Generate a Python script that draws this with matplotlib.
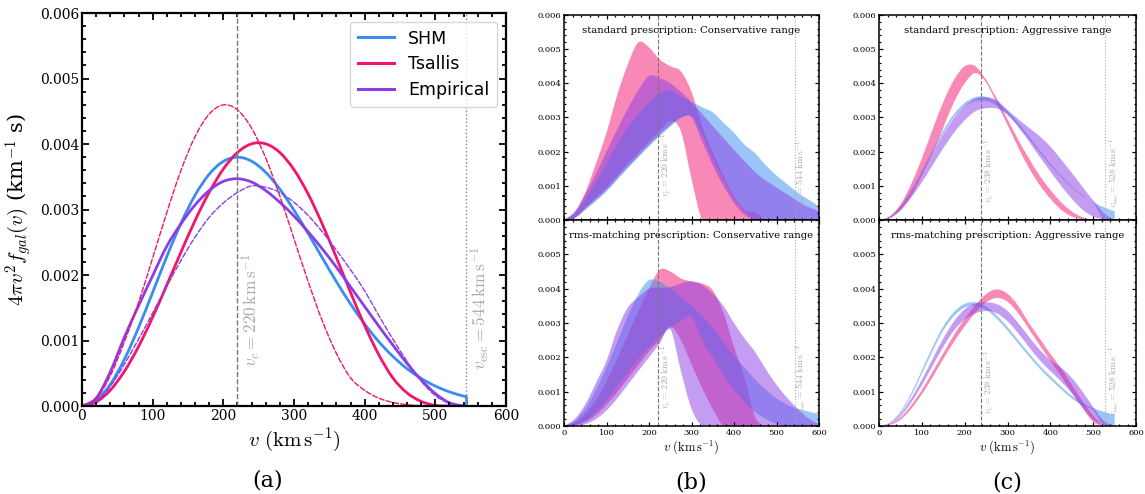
import numpy as np
import matplotlib.pyplot as plt
from matplotlib.path import Path
from matplotlib.patches import PathPatch
from matplotlib.lines import Line2D
from matplotlib.ticker import MultipleLocator, FormatStrFormatter, FuncFormatter

plt.rcParams['font.family'] = 'DejaVu Serif'
plt.rcParams['mathtext.fontset'] = 'cm'

SHM_C = '#3a8cf0'
TS_C = '#f2146e'
EMP_C = '#8b3de6'
nan = np.nan

# panel (a): speed distributions, values in units of 1e-3 s/km
v_a = list(range(0, 541, 20))
v_shm = v_a + [544, 544]
shm = [0, 0.085, 0.330, 0.713, 1.196, 1.735, 2.282, 2.789, 3.218, 3.539, 3.735, 3.799,
       3.738, 3.568, 3.311, 2.990, 2.634, 2.264, 1.900, 1.559, 1.252, 0.983, 0.757,
       0.570, 0.421, 0.305, 0.216, 0.151, 0.140, 0.0]
tsallis = [0, 0.061, 0.241, 0.529, 0.908, 1.356, 1.846, 2.348, 2.831, 3.263, 3.618, 3.871,
           4.003, 4.003, 3.870, 3.609, 3.238, 2.779, 2.267, 1.737, 1.229, 0.783, 0.428,
           0.200, 0.070, 0.010, 0, 0]
empirical = [0, 0.12, 0.52, 1.05, 1.53, 1.99, 2.44, 2.78, 3.07, 3.29, 3.43, 3.47, 3.42,
             3.29, 3.11, 2.90, 2.66, 2.40, 2.12, 1.82, 1.52, 1.22, 0.93, 0.65, 0.40,
             0.19, 0.05, 0]
tsallis_alt = [0, 0.109, 0.46, 0.98, 1.58, 2.26, 2.953, 3.595, 4.112, 4.457, 4.597, 4.522,
               4.242, 3.786, 3.205, 2.554, 1.902, 1.302, 0.804, 0.431, 0.24, 0.12, 0.055,
               0.02, 0.005, 0, 0, 0]
empirical_alt = [0, 0.07, 0.30, 0.64, 1.02, 1.42, 1.83, 2.22, 2.58, 2.88, 3.10, 3.26, 3.36,
                 3.34, 3.26, 3.11, 2.91, 2.66, 2.38, 2.08, 1.76, 1.38, 1.02, 0.68, 0.38,
                 0.16, 0.04, 0]

# panels (b), (c): bands, same units, sampled every 25 km/s
v_b = list(range(0, 601, 25))

# standard prescription, conservative range
sc_ts_hi = [0, 0.2, 0.8, 1.65, 2.55, 3.65, 4.55, 5.2, 5.05, 4.7, 4.5, 4.35, 3.75, 2.75,
            1.98, 1.3, 0.7, 0.3, 0.22, 0, 0, 0, 0, 0, 0]
sc_ts_lo = [0, 0.07, 0.36, 0.65, 0.95, 1.3, 1.65, 1.97, 2.3, 2.6, 2.9, 2.6, 1.2, 0, 0, 0,
            0, 0, 0, 0, 0, 0, 0, 0, 0]
sc_shm_hi = [0, 0.2, 0.6, 1.1, 1.65, 2.2, 2.7, 3.1, 3.45, 3.7, 3.8, 3.6, 3.45, 3.3, 3.15,
             2.85, 2.55, 2.2, 1.95, 1.6, 1.3, 1.05, 0.8, 0.6, 0.4]
sc_shm_lo = [0, 0.05, 0.29, 0.55, 0.83, 1.17, 1.51, 1.83, 2.15, 2.45, 2.73, 2.98, 3.04,
             2.5, 1.8, 1.2, 0.65, 0.25, 0, 0, 0, 0, 0, 0, 0]
sc_emp_hi = [0, 0.25, 0.75, 1.35, 2.0, 2.65, 3.25, 3.8, 4.22, 4.15, 4.0, 3.75, 3.45, 3.1,
             2.75, 2.4, 2.05, 1.72, 1.4, 1.15, 0.95, 0.75, 0.55, 0.38, 0.25]
sc_emp_lo = [0, 0.06, 0.33, 0.6, 0.88, 1.22, 1.56, 1.88, 2.2, 2.5, 2.78, 3.0, 3.0, 2.3,
             1.6, 1.0, 0.5, 0.15, 0, 0, 0, 0, 0, 0, 0]

# rms-matching prescription, conservative range
rc_ts_hi = [0, 0.1, 0.35, 0.75, 1.3, 1.95, 2.65, 3.35, 4.0, 4.55, 4.5, 4.3, 4.2, 4.15,
            3.95, 3.3, 2.3, 1.4, 0.25, 0, 0, 0, 0, 0, 0]
rc_ts_lo = [0, 0.02, 0.12, 0.32, 0.62, 0.98, 1.38, 1.78, 2.18, 2.5, 2.9, 2.5, 1.8, 1.1,
            0.5, 0, 0, 0, 0, 0, 0, 0, 0, 0, 0]
rc_shm_hi = [0, 0.15, 0.5, 1.05, 1.7, 2.45, 3.2, 3.85, 4.25, 4.2, 4.0, 3.75, 3.5, 3.2,
             2.85, 2.45, 2.05, 1.7, 1.35, 1.05, 0.8, 0.62, 0.5, 0.42, 0.35]
rc_shm_lo = [0, 0.02, 0.15, 0.4, 0.75, 1.15, 1.55, 1.95, 2.3, 2.6, 2.85, 3.05, 3.2, 2.5,
             2.0, 1.5, 1.05, 0.7, 0.4, 0.2, 0.07, 0, 0, 0, 0]
rc_emp_hi = [0, 0.2, 0.63, 1.25, 1.9, 2.8, 3.45, 3.75, 4.0, 4.02, 4.05, 4.15, 4.22, 4.1,
             3.85, 3.5, 3.0, 2.55, 2.15, 1.65, 1.2, 0.82, 0.5, 0.22, 0.05]
rc_emp_lo = [0, 0, 0.05, 0.2, 0.45, 0.8, 1.2, 1.6, 2.0, 2.4, 2.82, 1.6, 0.5, 0, 0, 0, 0,
             0, 0, 0, 0, 0, 0, 0, 0]

# standard prescription, aggressive range
sa_ts_hi = [0, 0.1, 0.45, 1.05, 1.8, 2.65, 3.45, 4.1, 4.5, 4.5, 4.1, 3.55, 2.95, 2.35,
            1.8, 1.3, 0.88, 0.52, 0.25, 0.08, 0.01, 0, 0, 0, 0]
sa_ts_lo = [0, 0.05, 0.28, 0.7, 1.3, 1.95, 2.7, 3.45, 4.0, 4.3, 4.02, 3.42, 2.78, 2.12,
            1.52, 1.02, 0.62, 0.3, 0.1, 0.02, 0, 0, 0, 0, 0]
sa_shm_hi = [0, 0.107, 0.416, 0.885, 1.456, 2.060, 2.627, 3.098, 3.430, 3.598, 3.602,
             3.457, 3.192, 2.843, 2.448, 2.040, 1.649, 1.294, 0.986, 0.730, 0.526,
             0.369, 0.252, nan, nan]
sa_shm_lo = [0, 0.104, 0.402, 0.855, 1.408, 1.992, 2.540, 2.996, 3.316, 3.479, 3.483,
             3.342, 3.086, 2.749, 2.366, 1.973, 1.594, 1.251, 0.953, 0.706, 0.509, 0, 0,
             nan, nan]
sa_emp_hi = [0, 0.1, 0.4, 0.85, 1.4, 1.98, 2.52, 2.98, 3.33, 3.55, 3.6, 3.5, 3.22, 2.95,
             2.7, 2.45, 2.15, 1.77, 1.38, 0.97, 0.57, 0.2, 0, 0, 0]
sa_emp_lo = [0, 0.06, 0.28, 0.65, 1.1, 1.6, 2.1, 2.55, 2.92, 3.18, 3.27, 3.26, 3.08, 2.72,
             2.3, 1.85, 1.42, 1.0, 0.62, 0.3, 0.1, 0.02, 0, 0, 0]

# rms-matching prescription, aggressive range
ra_ts_hi = [0, 0.05, 0.25, 0.6, 1.05, 1.58, 2.12, 2.65, 3.12, 3.52, 3.84, 3.98, 3.85, 3.5,
            3.0, 2.55, 2.1, 1.68, 1.2, 0.72, 0.3, 0, 0, 0, 0]
ra_ts_lo = [0, 0.03, 0.18, 0.5, 0.92, 1.42, 1.95, 2.45, 2.9, 3.3, 3.6, 3.73, 3.62, 3.28,
            2.82, 2.35, 1.9, 1.45, 0.98, 0.52, 0.12, 0, 0, 0, 0]
ra_shm_hi = [0, 0.1, 0.42, 0.95, 1.62, 2.3, 2.9, 3.32, 3.56, 3.6, 3.48, 3.22, 2.88, 2.5,
             2.12, 1.76, 1.45, 1.15, 0.88, 0.68, 0.52, 0.41, 0.33, nan, nan]
ra_shm_lo = [0, 0.08, 0.37, 0.87, 1.52, 2.18, 2.78, 3.2, 3.45, 3.5, 3.38, 3.12, 2.78, 2.4,
             2.03, 1.67, 1.36, 1.07, 0.8, 0.6, 0.45, 0, 0, nan, nan]
ra_emp_hi = [0, 0.08, 0.35, 0.8, 1.35, 1.95, 2.55, 3.05, 3.4, 3.57, 3.6, 3.55, 3.35, 3.0,
             2.6, 2.22, 1.92, 1.7, 1.4, 1.0, 0.55, 0.15, 0, 0, 0]
ra_emp_lo = [0, 0.05, 0.28, 0.68, 1.18, 1.75, 2.3, 2.78, 3.1, 3.28, 3.35, 3.28, 3.05, 2.7,
             2.3, 1.92, 1.6, 1.3, 0.95, 0.55, 0.18, 0.02, 0, 0, 0]


def bezier(x, y):
    # cubic Bezier pieces through every point (Catmull-Rom tangents)
    p = np.column_stack([x, np.array(y, dtype=float) * 1e-3])
    q = np.vstack([p[:1], p, p[-1:]])
    verts = [p[0]]
    for i in range(len(p) - 1):
        verts += [p[i] + (q[i + 2] - q[i]) / 6, p[i + 1] - (q[i + 3] - q[i + 1]) / 6,
                  p[i + 1]]
    return verts


def curve(ax, x, y, **kw):
    verts = bezier(x, y)
    codes = [Path.MOVETO] + [Path.CURVE4] * (len(verts) - 1)
    ax.add_patch(PathPatch(Path(verts, codes), fill=False, capstyle='round', **kw))


def band(ax, lo, hi, color):
    ok = ~np.isnan(np.array(hi, dtype=float))
    x = np.array(v_b)[ok]
    up = bezier(x, np.array(hi)[ok])
    down = bezier(x[::-1], np.array(lo)[ok][::-1])
    n = len(up) - 1
    verts = up + down + [up[0]]
    codes = ([Path.MOVETO] + [Path.CURVE4] * n + [Path.LINETO] + [Path.CURVE4] * n
             + [Path.CLOSEPOLY])
    ax.add_patch(PathPatch(Path(verts, codes), facecolor=color, alpha=0.5, lw=0))


def style(ax, labelsize, lw, major, minor):
    ax.set_xlim(0, 600)
    ax.set_ylim(0, 0.006)
    ax.xaxis.set_major_locator(MultipleLocator(100))
    ax.xaxis.set_minor_locator(MultipleLocator(20))
    ax.yaxis.set_major_locator(MultipleLocator(0.001))
    ax.yaxis.set_minor_locator(MultipleLocator(0.0002))
    ax.yaxis.set_major_formatter(FormatStrFormatter('%.3f'))
    ax.tick_params(which='both', direction='in', top=True, right=True,
                   labelsize=labelsize, width=lw * 0.8, pad=2)
    ax.tick_params(which='major', length=major)
    ax.tick_params(which='minor', length=minor)
    for s in ax.spines.values():
        s.set_linewidth(lw)


fig = plt.figure(figsize=(11.45, 4.94), dpi=100)

# ---- (a) ----
ax = fig.add_axes([0.0716, 0.1781, 0.3703, 0.7955])
style(ax, 10, 1.6, 5, 3)
curve(ax, v_shm, shm, edgecolor=SHM_C, lw=2)
curve(ax, v_a, tsallis, edgecolor=TS_C, lw=2)
curve(ax, v_a, empirical, edgecolor=EMP_C, lw=2)
curve(ax, v_a, tsallis_alt, edgecolor=TS_C, lw=1, ls='--')
curve(ax, v_a, empirical_alt, edgecolor=EMP_C, lw=1, ls='--')
ax.axvline(220, color='#777777', ls='--', lw=1)
ax.axvline(544, color='#888888', ls=':', lw=1)
ax.text(240, 0.0006, r'$v_c = 220\,\mathrm{km\,s^{-1}}$', rotation=90, color='#aaaaaa',
        fontsize=12.5, ha='center', va='bottom')
ax.text(564, 0.00055, r'$v_{\rm esc} = 544\,\mathrm{km\,s^{-1}}$', rotation=90,
        color='#aaaaaa', fontsize=12.5, ha='center', va='bottom')
ax.set_xlabel(r'$v\ (\mathrm{km\,s^{-1}})$', fontsize=15, labelpad=2)
ax.set_ylabel(r'$4\pi v^2 f_{gal}(v)$ (km$^{-1}$ s)', fontsize=15, labelpad=4)
handles = [Line2D([], [], color=c, lw=2.2) for c in (SHM_C, TS_C, EMP_C)]
ax.legend(handles, ['SHM', 'Tsallis', 'Empirical'], loc='upper right',
          prop={'family': 'DejaVu Sans', 'size': 12.5},
          handlelength=2.1, labelspacing=0.45, borderpad=0.45)
fig.text(0.234, 0.028, '(a)', ha='center', va='center', fontsize=16)


# ---- (b), (c) ----
def band_panel(rect, title, ts, shm_b, emp_b, vc, vesc, vc_y, vesc_y, vc_x, vesc_x,
               bottom):
    ax = fig.add_axes(rect)
    style(ax, 6, 1.1, 3, 1.6)
    for (lo, hi), c in ((ts, TS_C), (shm_b, SHM_C), (emp_b, EMP_C)):
        band(ax, lo, hi, c)
    ax.axvline(vc, color='#777777', ls='--', lw=0.8)
    ax.axvline(vesc, color='#aaaaaa', ls=':', lw=0.8)
    ax.text(vc_x, vc_y, r'$v_c = %d\,\mathrm{km\,s^{-1}}$' % vc, rotation=90,
            color='#aaaaaa', fontsize=7, ha='center', va='bottom')
    ax.text(vesc_x, vesc_y, r'$v_{\rm esc} = %d\,\mathrm{km\,s^{-1}}$' % vesc, rotation=90,
            color='#aaaaaa', fontsize=7, ha='center', va='bottom')
    ax.text(0.5, 0.925, title, transform=ax.transAxes, ha='center', va='center',
            fontsize=7.3)
    if bottom:
        ax.set_xlabel(r'$v\ (\mathrm{km\,s^{-1}})$', fontsize=9, labelpad=1)
        ax.yaxis.set_major_formatter(
            FuncFormatter(lambda y, _: '' if y > 0.0055 else '%.3f' % y))
    else:
        ax.tick_params(labelbottom=False)
    return ax


band_panel([0.4926, 0.5547, 0.2227, 0.4150], 'standard prescription: Conservative range',
           (sc_ts_lo, sc_ts_hi), (sc_shm_lo, sc_shm_hi), (sc_emp_lo, sc_emp_hi),
           220, 544, 0.00068, 0.00029, 241, 559, False)
band_panel([0.4926, 0.1377, 0.2227, 0.4170], 'rms-matching prescription: Conservative range',
           (rc_ts_lo, rc_ts_hi), (rc_shm_lo, rc_shm_hi), (rc_emp_lo, rc_emp_hi),
           220, 544, 0.00049, 0.00034, 241, 559, True)
band_panel([0.7677, 0.5547, 0.2245, 0.4150], 'standard prescription: Aggressive range',
           (sa_ts_lo, sa_ts_hi), (sa_shm_lo, sa_shm_hi), (sa_emp_lo, sa_emp_hi),
           238, 528, 0.00049, 0.00034, 258, 549, False)
band_panel([0.7677, 0.1377, 0.2245, 0.4170], 'rms-matching prescription: Aggressive range',
           (ra_ts_lo, ra_ts_hi), (ra_shm_lo, ra_shm_hi), (ra_emp_lo, ra_emp_hi),
           238, 528, 0.00034, 0.00029, 258, 549, True)

fig.text(0.604, 0.024, '(b)', ha='center', va='center', fontsize=16)
fig.text(0.880, 0.024, '(c)', ha='center', va='center', fontsize=16)

fig.savefig('out.png', dpi=100)
